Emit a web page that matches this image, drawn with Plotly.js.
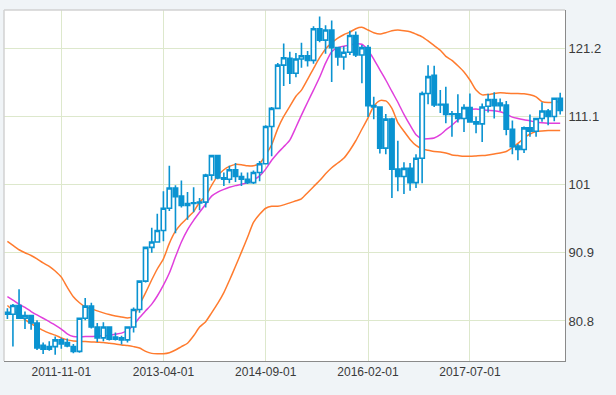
<!DOCTYPE html>
<html>
<head>
<meta charset="utf-8">
<script src="https://cdn.plot.ly/plotly-3.0.1.min.js"></script>
<style>
  html, body { margin: 0; padding: 0; background: #f0f4f7; }
  #chart { width: 616px; height: 395px; }
</style>
</head>
<body>
<div id="chart"></div>
<script>
// Monthly dates (first of month)
const dates = [
  '2011-02-01','2011-03-01','2011-04-01','2011-05-01','2011-06-01','2011-07-01','2011-08-01','2011-09-01','2011-10-01','2011-11-01','2011-12-01','2012-01-01',
  '2012-02-01','2012-03-01','2012-04-01','2012-05-01','2012-06-01','2012-07-01','2012-08-01','2012-09-01','2012-10-01','2012-11-01','2012-12-01','2013-01-01',
  '2013-02-01','2013-03-01','2013-04-01','2013-05-01','2013-06-01','2013-07-01','2013-08-01','2013-09-01','2013-10-01','2013-11-01','2013-12-01','2014-01-01',
  '2014-02-01','2014-03-01','2014-04-01','2014-05-01','2014-06-01','2014-07-01','2014-08-01','2014-09-01','2014-10-01','2014-11-01','2014-12-01','2015-01-01',
  '2015-02-01','2015-03-01','2015-04-01','2015-05-01','2015-06-01','2015-07-01','2015-08-01','2015-09-01','2015-10-01','2015-11-01','2015-12-01','2016-01-01',
  '2016-02-01','2016-03-01','2016-04-01','2016-05-01','2016-06-01','2016-07-01','2016-08-01','2016-09-01','2016-10-01','2016-11-01','2016-12-01','2017-01-01',
  '2017-02-01','2017-03-01','2017-04-01','2017-05-01','2017-06-01','2017-07-01','2017-08-01','2017-09-01','2017-10-01','2017-11-01','2017-12-01','2018-01-01',
  '2018-02-01','2018-03-01','2018-04-01','2018-05-01','2018-06-01','2018-07-01','2018-08-01','2018-09-01','2018-10-01'
];

const openV = [
  82.1, 81.8, 83.1, 81.2, 81.6, 80.5, 77.2, 76.6, 77.0, 78.0, 77.6, 77.0,
  76.3, 81.2, 83.0, 79.9, 78.3, 79.9, 78.4, 78.3, 78.0, 79.9, 82.5, 86.7,
  91.7, 92.5, 94.2, 97.5, 100.5, 99.3, 97.9, 98.2, 98.3, 98.4, 102.4, 105.3,
  102.0, 101.8, 103.2, 102.2, 101.8, 101.3, 102.8, 104.1, 109.6, 112.3, 118.7, 119.7,
  117.5, 119.6, 120.1, 119.4, 124.1, 122.4, 123.9, 121.3, 119.9, 120.6, 123.1, 120.2,
  121.3, 112.7, 112.5, 106.4, 110.7, 103.3, 102.2, 103.4, 101.3, 104.9, 114.5, 117.2,
  112.8, 112.9, 111.4, 111.5, 110.8, 112.4, 110.3, 110.0, 112.6, 113.6, 112.7, 112.8,
  109.2, 106.7, 106.2, 109.4, 108.9, 110.8, 111.9, 111.1, 113.8
];
const highV = [
  82.7, 83.3, 85.5, 82.2, 81.7, 80.9, 77.6, 77.8, 78.5, 78.3, 78.2, 77.4,
  81.3, 84.2, 83.5, 80.5, 80.6, 80.0, 79.1, 78.6, 80.0, 82.8, 86.8, 91.8,
  94.6, 96.7, 100.0, 103.8, 100.9, 101.6, 99.9, 100.6, 99.0, 102.6, 105.4, 105.4,
  102.8, 103.8, 104.2, 102.8, 102.8, 103.1, 104.5, 109.8, 112.5, 119.0, 121.9, 120.7,
  120.5, 122.0, 120.8, 124.45, 125.9, 124.6, 125.3, 121.4, 121.5, 123.8, 123.7, 121.7,
  121.7, 114.0, 112.6, 111.45, 110.9, 107.5, 104.3, 104.2, 105.5, 114.8, 118.7, 118.6,
  115.0, 115.5, 111.9, 114.4, 112.9, 114.5, 111.1, 113.0, 114.45, 114.7, 113.75, 113.4,
  110.5, 107.0, 109.6, 111.4, 110.9, 113.2, 112.2, 113.9, 114.6
];
const lowV = [
  81.1, 77.0, 81.1, 79.6, 79.5, 76.5, 75.9, 76.4, 75.8, 76.7, 76.9, 76.0,
  76.1, 80.9, 79.7, 77.7, 77.8, 77.9, 77.9, 77.3, 77.6, 79.1, 82.0, 86.5,
  90.9, 92.5, 92.6, 97.1, 93.8, 97.6, 95.8, 96.9, 97.2, 97.6, 101.6, 101.8,
  100.8, 101.2, 101.4, 100.8, 101.1, 101.1, 101.5, 104.0, 105.2, 112.2, 115.6, 115.9,
  116.9, 118.3, 118.5, 118.9, 122.1, 120.4, 116.2, 118.6, 118.0, 120.2, 119.9, 116.0,
  111.0, 110.7, 105.6, 105.5, 99.0, 100.0, 99.6, 100.1, 100.5, 101.2, 112.9, 112.5,
  111.6, 110.1, 108.1, 110.2, 108.8, 110.2, 108.6, 107.3, 111.7, 110.8, 111.9, 108.3,
  105.5, 104.6, 105.7, 108.1, 108.1, 110.3, 109.8, 110.4, 111.4
];
const closeV = [
  81.8, 83.1, 81.2, 81.6, 80.5, 76.8, 76.6, 77.0, 78.0, 77.4, 77.1, 76.3,
  81.2, 83.0, 79.9, 78.3, 79.9, 78.1, 78.1, 78.0, 79.9, 82.5, 86.7, 91.7,
  92.5, 94.2, 97.5, 100.5, 99.2, 97.9, 98.2, 98.3, 98.4, 102.4, 105.3, 102.0,
  101.8, 103.2, 102.2, 101.8, 101.3, 102.8, 104.1, 109.6, 112.3, 118.7, 119.8, 117.5,
  119.6, 120.1, 119.4, 124.1, 122.4, 123.9, 121.3, 119.9, 120.6, 123.1, 120.2, 121.3,
  112.7, 112.5, 106.4, 110.7, 103.3, 102.2, 103.4, 101.3, 104.9, 114.5, 117.0, 112.8,
  112.9, 111.4, 111.5, 110.8, 112.4, 110.3, 110.0, 112.5, 113.6, 112.7, 113.1, 109.2,
  106.6, 106.2, 109.4, 108.9, 110.8, 111.9, 111.1, 113.8, 112.0
];

// Upper / lower bands (orange) and moving average (magenta)
const upperBand = [
  92.6, 92.0, 91.35, 90.9, 90.5, 90.0, 89.4, 88.9, 88.2, 87.3, 85.8, 84.4,
  83.5, 82.9, 82.6, 82.3, 82.0, 81.75, 81.55, 81.4, 81.25, 81.5, 83.2, 85.0,
  86.9, 88.5, 90.0, 92.3, 94.1, 95.2, 96.1, 97.0, 98.4, 99.3, 100.9, 102.3,
  103.2, 103.7, 104.0, 103.95, 103.8, 103.8, 104.1, 105.4, 106.9, 109.3, 111.1, 112.6,
  114.1, 115.0, 116.6, 118.2, 119.8, 121.1, 122.0, 122.7, 123.2, 123.6, 124.1, 124.3,
  123.9, 123.5, 123.3, 123.5, 123.8, 123.9, 123.8, 123.65, 123.3, 122.9, 122.3, 121.6,
  120.9, 120.0, 119.4, 118.6, 117.7, 116.5, 115.0, 114.3, 114.35, 114.5, 114.6, 114.55,
  114.5, 114.5, 114.45, 114.3, 114.0, 113.3, 113.15, 113.2, 113.3
];
const lowerBand = [
  83.1, 82.4, 81.7, 81.0, 80.4, 79.9, 79.4, 79.0, 78.7, 78.3, 78.0, 77.85,
  77.8, 77.75, 77.7, 77.65, 77.6, 77.5, 77.4, 77.25, 77.15, 77.0, 76.8, 76.3,
  76.0, 75.95, 75.95, 76.1, 76.5, 77.0, 77.5, 78.6, 79.9, 80.7, 82.0, 83.4,
  85.0, 86.8, 88.9, 91.0, 93.2, 95.4, 96.6, 97.5, 97.8, 97.8, 98.0, 98.3,
  98.6, 98.9, 99.8, 100.7, 101.6, 102.6, 103.5, 104.2, 104.9, 106.1, 107.5, 109.2,
  110.9, 112.6, 113.45, 113.4, 112.3, 110.2, 108.9, 107.7, 106.8, 106.3, 106.1, 105.9,
  105.85, 105.7, 105.4, 105.3, 105.2, 105.2, 105.25, 105.3, 105.4, 105.55, 105.7, 105.9,
  106.5, 107.1, 107.9, 108.5, 108.85, 108.95, 109.0, 109.0, 109.0
];
const movingAvg = [
  84.4, 83.9, 83.3, 82.8, 82.2, 81.7, 81.2, 80.7, 80.2, 79.6, 78.9, 78.5,
  78.45, 78.5, 78.5, 78.55, 78.6, 78.7, 78.85, 79.0, 79.4, 80.2, 81.3, 82.3,
  83.3, 84.5, 86.1, 87.9, 90.3, 92.5, 94.3, 95.7, 96.9, 98.1, 99.3, 99.9,
  100.3, 100.6, 100.85, 101.05, 101.3, 101.7, 102.3, 103.3, 104.6, 105.7, 106.6, 107.6,
  109.5, 111.3, 113.2, 115.0, 116.9, 119.0, 120.7, 121.3, 121.5, 121.7, 121.85, 121.8,
  120.9, 119.6, 118.0, 116.5, 114.8, 113.2, 111.4, 109.8, 108.4, 107.8, 107.8, 107.9,
  108.4, 109.1, 109.8, 110.6, 111.3, 112.1, 112.2, 112.1, 112.0, 111.95, 111.8, 111.45,
  111.0, 110.8, 110.6, 110.45, 110.25, 110.15, 110.1, 110.1, 110.1
];

const yTicks = [80.8, 90.9, 101, 111.1, 121.2];
const xTicks = ['2011-11-01', '2013-04-01', '2014-09-01', '2016-02-01', '2017-07-01'];

const blue = '#0a93d1';
const orange = '#ff7b2e';
const magenta = '#e03fdc';

const xRange = ['2011-01-14 19:00', '2018-10-25 10:00'];
const yRange = [74.87, 126.87];

const traces = [
  { type: 'scatter', mode: 'lines', x: dates, y: upperBand,
    line: { color: orange, width: 1.5, shape: 'spline', smoothing: 0.6 }, hoverinfo: 'skip' },
  { type: 'scatter', mode: 'lines', x: dates, y: lowerBand,
    line: { color: orange, width: 1.5, shape: 'spline', smoothing: 0.6 }, hoverinfo: 'skip' },
  { type: 'scatter', mode: 'lines', x: dates, y: movingAvg,
    line: { color: magenta, width: 1.5, shape: 'spline', smoothing: 0.6 }, hoverinfo: 'skip' },
  { type: 'candlestick', x: dates, open: openV, high: highV, low: lowV, close: closeV,
    xaxis: 'x2', yaxis: 'y2',
    whiskerwidth: 0,
    increasing: { line: { color: blue, width: 1.6 }, fillcolor: '#ffffff' },
    decreasing: { line: { color: blue, width: 1.6 }, fillcolor: blue } }
];

const layout = {
  width: 616, height: 395,
  margin: { l: 4, r: 51, t: 10, b: 34, pad: 0 },
  paper_bgcolor: '#f0f4f7',
  plot_bgcolor: '#ffffff',
  showlegend: false,
  boxgap: 0.12,
  boxgroupgap: 0.1,
  font: { family: 'Liberation Sans, Arial, sans-serif', color: '#3a3a3a' },
  xaxis: {
    type: 'date',
    range: xRange,
    rangeslider: { visible: false },
    tickmode: 'array', tickvals: xTicks, ticktext: xTicks,
    showgrid: true, gridcolor: '#dde8cc', gridwidth: 1,
    showline: true, linecolor: '#8a8a8a', linewidth: 1,
    ticks: '', zeroline: false,
    tickfont: { size: 12, color: '#3a3a3a' }
  },
  yaxis: {
    side: 'right',
    range: yRange,
    tickmode: 'array', tickvals: yTicks, ticktext: yTicks.map(String),
    showgrid: true, gridcolor: '#dde8cc', gridwidth: 1,
    showline: true, linecolor: '#8a8a8a', linewidth: 1,
    ticks: '', zeroline: false,
    tickfont: { size: 13, color: '#3a3a3a' }
  },
  xaxis2: {
    type: 'date', overlaying: 'x', range: xRange,
    rangeslider: { visible: false },
    visible: false, showgrid: false, zeroline: false
  },
  yaxis2: {
    overlaying: 'y', side: 'right', range: yRange,
    visible: false, showgrid: false, zeroline: false
  },
  shapes: [
    { type: 'line', xref: 'paper', yref: 'paper', x0: 0, x1: 1, y0: 1, y1: 1,
      line: { color: '#d2d2d2', width: 1.5 } },
    { type: 'line', xref: 'paper', yref: 'paper', x0: 0, x1: 0, y0: 0, y1: 1,
      line: { color: '#d2d2d2', width: 1.5 } }
  ]
};

Plotly.newPlot('chart', traces, layout, { staticPlot: true, displayModeBar: false });
</script>
</body>
</html>
